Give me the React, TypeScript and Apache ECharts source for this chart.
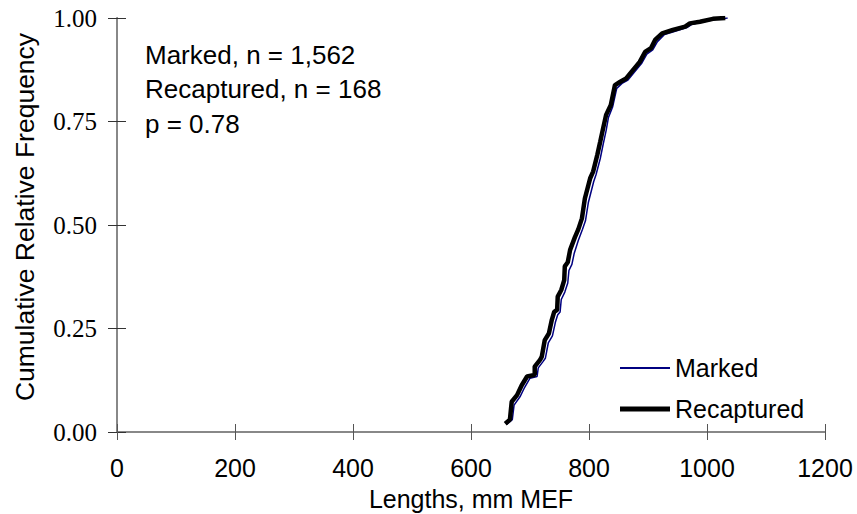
import React, { useEffect, useRef } from 'react';
import * as echarts from 'echarts';

// Lengths (mm MEF) and cumulative relative frequency
const markedLength = [660, 670, 673, 683, 691, 700, 712, 714, 722, 726, 731, 738, 743, 747, 751, 753, 759, 764, 766, 771, 775, 782, 789, 794, 799, 808, 812, 819, 824, 829, 833, 840, 847, 856, 866, 875, 889, 898, 908, 916, 928, 946, 966, 975, 992, 1015, 1035];
const markedFreq = [0.018, 0.03, 0.065, 0.085, 0.108, 0.13, 0.134, 0.155, 0.17, 0.178, 0.215, 0.232, 0.265, 0.283, 0.29, 0.32, 0.338, 0.36, 0.39, 0.405, 0.432, 0.463, 0.49, 0.51, 0.555, 0.605, 0.622, 0.66, 0.695, 0.728, 0.76, 0.785, 0.83, 0.842, 0.85, 0.866, 0.89, 0.913, 0.923, 0.943, 0.96, 0.968, 0.977, 0.985, 0.99, 0.997, 1.0];

const recapturedLength = [658, 666, 669, 678, 686, 695, 708, 708, 717, 720, 725, 732, 737, 741, 746, 747, 753, 758, 759, 764, 768, 776, 782, 788, 793, 802, 807, 814, 819, 824, 829, 837, 844, 853, 863, 872, 886, 895, 905, 912, 924, 942, 963, 971, 988, 1010, 1031];
const recapturedFreq = [0.02, 0.03, 0.073, 0.089, 0.113, 0.134, 0.138, 0.158, 0.174, 0.182, 0.222, 0.238, 0.271, 0.29, 0.295, 0.327, 0.343, 0.367, 0.4, 0.41, 0.44, 0.47, 0.49, 0.516, 0.564, 0.613, 0.629, 0.669, 0.701, 0.734, 0.766, 0.79, 0.838, 0.846, 0.854, 0.87, 0.894, 0.918, 0.927, 0.947, 0.963, 0.971, 0.979, 0.987, 0.991, 0.998, 1.0];

const seriesNames = ['Marked', 'Recaptured'];
const annotationLines = ['Marked, n = 1,562', 'Recaptured, n = 168', 'p = 0.78'];
const xAxisTitle = 'Lengths, mm MEF';
const yAxisTitle = 'Cumulative Relative Frequency';

const SANS = '"Liberation Sans", Arial, Helvetica, sans-serif';
const SERIF = '"Liberation Serif", "Times New Roman", serif';

export default function App() {
  const ref = useRef<HTMLDivElement>(null);

  useEffect(() => {
    if (!ref.current) return;
    const chart = echarts.init(ref.current, undefined, { renderer: 'svg' });

    const xBase = { type: 'value', min: 0, max: 1200, interval: 200, splitLine: { show: false } };
    const yBase = { type: 'value', min: 0, max: 1, interval: 0.25, splitLine: { show: false } };

    const legendCommon = {
      left: 620,
      orient: 'horizontal',
      padding: 0,
      itemWidth: 50,
      icon: 'rect',
      selectedMode: false,
      textStyle: { fontFamily: SANS, fontSize: 25, color: '#000', lineHeight: 30 },
    };

    const option: any = {
      animation: false,
      backgroundColor: '#fff',
      grid: { left: 117, right: 32, top: 18, bottom: 82, containLabel: false },
      xAxis: [
        {
          ...xBase,
          position: 'bottom',
          axisLine: { lineStyle: { color: '#222', width: 1 } },
          axisTick: { length: 8, lineStyle: { color: '#555', width: 1 } },
          axisLabel: {
            margin: 23,
            fontFamily: SANS,
            fontSize: 25,
            lineHeight: 25,
            color: '#000',
            formatter: (v: number) => String(v),
          },
        },
        {
          ...xBase,
          position: 'bottom',
          axisLine: { show: false },
          axisTick: { inside: true, length: 8, lineStyle: { color: '#555', width: 1 } },
          axisLabel: { show: false },
        },
        {
          ...xBase,
          position: 'top',
          axisLine: { lineStyle: { color: '#888', width: 2 } },
          axisTick: { show: false },
          axisLabel: { show: false },
        },
      ],
      yAxis: [
        {
          ...yBase,
          position: 'left',
          axisLine: { lineStyle: { color: '#222', width: 1 } },
          axisTick: { length: 9, lineStyle: { color: '#333', width: 1 } },
          axisLabel: {
            margin: 20,
            fontFamily: SERIF,
            fontSize: 25,
            color: '#000',
            formatter: (v: number) => v.toFixed(2),
          },
        },
        {
          ...yBase,
          position: 'left',
          axisLine: { show: false },
          axisTick: { inside: true, length: 9, lineStyle: { color: '#333', width: 1 } },
          axisLabel: { show: false },
        },
        {
          ...yBase,
          position: 'right',
          axisLine: { lineStyle: { color: '#888', width: 2 } },
          axisTick: { show: false },
          axisLabel: { show: false },
        },
      ],
      legend: [
        { ...legendCommon, top: 353, itemHeight: 2, data: [seriesNames[0]] },
        { ...legendCommon, top: 394, itemHeight: 5, data: [seriesNames[1]] },
      ],
      series: [
        {
          name: seriesNames[0],
          type: 'line',
          xAxisIndex: 0,
          yAxisIndex: 0,
          symbol: 'none',
          z: 2,
          data: markedLength.map((x, i) => [x, markedFreq[i]]),
          lineStyle: { color: '#000080', width: 1.5 },
          itemStyle: { color: '#000080' },
        },
        {
          name: seriesNames[1],
          type: 'line',
          xAxisIndex: 0,
          yAxisIndex: 0,
          symbol: 'none',
          z: 3,
          data: recapturedLength.map((x, i) => [x, recapturedFreq[i]]),
          lineStyle: { color: '#000', width: 4.5 },
          itemStyle: { color: '#000' },
        },
      ],
      graphic: [
        ...annotationLines.map((t, i) => ({
          type: 'text',
          x: 145,
          y: 54.5 + i * 34.5,
          style: { text: t, fontFamily: SANS, fontSize: 26, fill: '#000', align: 'left', verticalAlign: 'middle' },
        })),
        {
          type: 'text',
          x: 471,
          y: 499,
          style: { text: xAxisTitle, fontFamily: SANS, fontSize: 25, fill: '#000', align: 'center', verticalAlign: 'middle' },
        },
        {
          type: 'text',
          x: 25,
          y: 217,
          rotation: Math.PI / 2,
          style: { text: yAxisTitle, fontFamily: SANS, fontSize: 26.5, fill: '#000', align: 'center', verticalAlign: 'middle' },
        },
      ],
    };

    chart.setOption(option);
    return () => chart.dispose();
  }, []);

  return (
    <div
      ref={ref}
      style={{ position: 'absolute', left: 0, top: 0, width: 857, height: 514, background: '#fff' }}
    />
  );
}
